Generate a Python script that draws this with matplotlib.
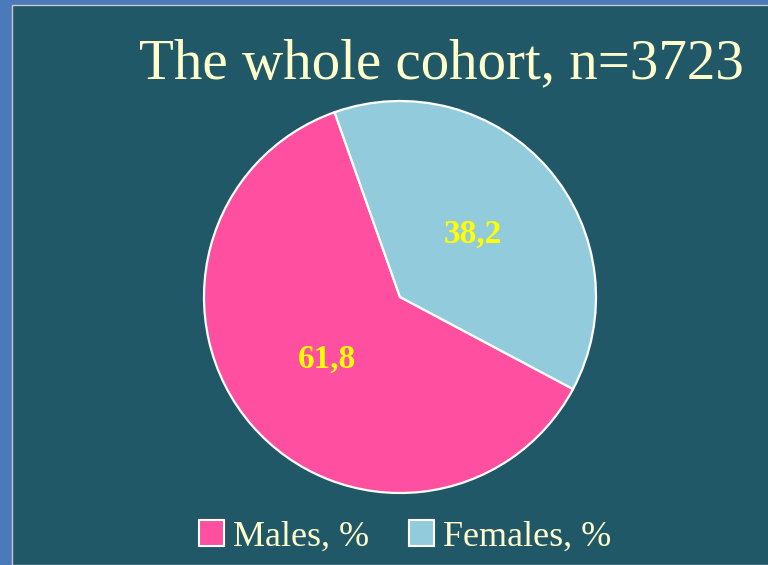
import numpy as np
import matplotlib.pyplot as plt
from matplotlib.patches import Rectangle, Patch

# data
labels = ["Males, %", "Females, %"]
values = [61.8, 38.2]
value_text = ["61,8", "38,2"]
colors = ["#FF4FA0", "#92CCDC"]
title = "The whole cohort, n=3723"

bg = "#215868"
txt = "#FFFFCC"

fig = plt.figure(figsize=(7.68, 5.65), dpi=100)
fig.patch.set_facecolor("#4A7AB9")
fig.patches.append(Rectangle((12 / 768, 0), 1, 1 - 5 / 565, transform=fig.transFigure,
                             facecolor=bg, edgecolor="#C8C8C8", linewidth=1, zorder=-1))

ax = fig.add_axes([(400 - 196) / 768, 1 - (297 + 196) / 565, 392 / 768, 392 / 565])
ax.set_facecolor("none")
wedges, texts = ax.pie(values, colors=colors, startangle=109.5, counterclock=True,
                       wedgeprops=dict(edgecolor="white", linewidth=1.6))
for w, t in zip(wedges, value_text):
    ang = np.deg2rad((w.theta1 + w.theta2) / 2)
    ax.text(0.49 * np.cos(ang), 0.49 * np.sin(ang), t, ha="center", va="center",
            color="#FFFF00", fontsize=24, fontweight="bold", family="Liberation Serif")
ax.set_xlim(-1, 1)
ax.set_ylim(-1, 1)
ax.set_aspect("equal")

fig.text(441 / 768, 1 - 64 / 565, title, ha="center", va="center", color=txt,
         fontsize=41, family="Liberation Serif")

handles = [Patch(facecolor=c, edgecolor="white", linewidth=1.5) for c in colors]
leg = fig.legend(handles, labels, loc="center", bbox_to_anchor=(405 / 768, 1 - 537 / 565),
                 ncol=2, frameon=False, handlelength=0.7, handleheight=0.7,
                 handletextpad=0.25, columnspacing=1.1,
                 prop={"family": "Liberation Serif", "size": 26})
for t in leg.get_texts():
    t.set_color(txt)

fig.savefig("out.png", dpi=100, facecolor=fig.get_facecolor())
